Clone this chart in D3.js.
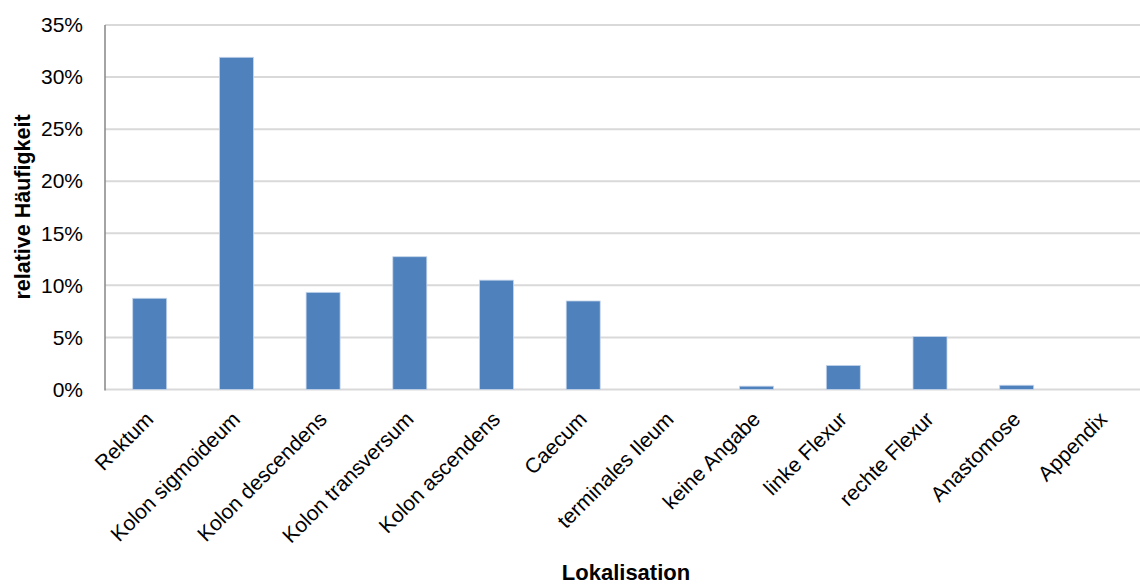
<!DOCTYPE html>
<html>
<head>
<meta charset="utf-8">
<script src="https://cdn.jsdelivr.net/npm/d3@7"></script>
<style>
  html, body { margin: 0; padding: 0; background: #fff; }
  svg { display: block; font-family: "Liberation Sans", Arial, sans-serif; }
</style>
</head>
<body>
<svg id="chart" width="1140" height="585"></svg>
<script>
// Lokalisation der Befunde und ihre relative Häufigkeit
const categories = [
  "Rektum", "Kolon sigmoideum", "Kolon descendens", "Kolon transversum",
  "Kolon ascendens", "Caecum", "terminales Ileum", "keine Angabe",
  "linke Flexur", "rechte Flexur", "Anastomose", "Appendix"
];
const values = [0.0876, 0.319, 0.0933, 0.1275, 0.105, 0.085, 0, 0.0032, 0.0231, 0.0508, 0.0041, 0];
const yTicks = [0, 0.05, 0.10, 0.15, 0.20, 0.25, 0.30, 0.35];
const yTitle = "relative Häufigkeit";
const xTitle = "Lokalisation";

const svg = d3.select("#chart");
const plotLeft = 105, plotRight = 1140, plotTop = 25, plotBottom = 389.5;

// category bands run slightly past the right edge of the canvas
const x = d3.scaleBand()
  .domain(categories)
  .range([106.35, 1146.75])
  .paddingInner(0.608)
  .paddingOuter(0.304);

const y = d3.scaleLinear().domain([0, 0.35]).range([plotBottom, plotTop]);

// horizontal gridlines
svg.append("g")
  .selectAll("line")
  .data(yTicks)
  .join("line")
  .attr("x1", plotLeft).attr("x2", plotRight)
  .attr("y1", d => y(d)).attr("y2", d => y(d))
  .attr("stroke", "#d9d9d9")
  .attr("stroke-width", 2);

// bars
svg.append("g")
  .selectAll("rect")
  .data(values)
  .join("rect")
  .attr("x", (d, i) => x(categories[i]))
  .attr("width", x.bandwidth())
  .attr("y", d => y(d))
  .attr("height", d => plotBottom - y(d))
  .attr("fill", "#4f81bd")
  .attr("stroke", "#c5d5ea")
  .attr("stroke-width", 0.8);

// y axis
const yAxis = d3.axisLeft(y)
  .tickValues(yTicks)
  .tickFormat(d3.format(".0%"))
  .tickSize(0)
  .tickPadding(22);
const gy = svg.append("g").attr("transform", `translate(${plotLeft},0)`).call(yAxis);
gy.select(".domain").remove();
gy.selectAll("text")
  .attr("font-size", 21)
  .attr("fill", "#000")
  .attr("font-family", "'Liberation Sans', Arial, sans-serif");

svg.append("line")
  .attr("x1", plotLeft).attr("x2", plotLeft)
  .attr("y1", plotTop).attr("y2", plotBottom + 1)
  .attr("stroke", "#868686")
  .attr("stroke-width", 1.5);

// x axis labels, rotated
const xAxis = d3.axisBottom(x).tickSize(0).tickPadding(0);
const gx = svg.append("g").attr("transform", `translate(0,${plotBottom})`).call(xAxis);
gx.select(".domain").remove();
gx.selectAll("text")
  .attr("font-size", 21)
  .attr("fill", "#000")
  .attr("font-family", "'Liberation Sans', Arial, sans-serif")
  .attr("text-anchor", "end")
  .attr("dy", null)
  .attr("y", 0)
  .attr("transform", "translate(5,31) rotate(-45)");

// axis titles
svg.append("text")
  .attr("transform", `translate(30,207) rotate(-90)`)
  .attr("text-anchor", "middle")
  .attr("font-size", 21.5)
  .attr("font-weight", "bold")
  .text(yTitle);

svg.append("text")
  .attr("x", 626)
  .attr("y", 580)
  .attr("text-anchor", "middle")
  .attr("font-size", 22)
  .attr("font-weight", "bold")
  .text(xTitle);
</script>
</body>
</html>
